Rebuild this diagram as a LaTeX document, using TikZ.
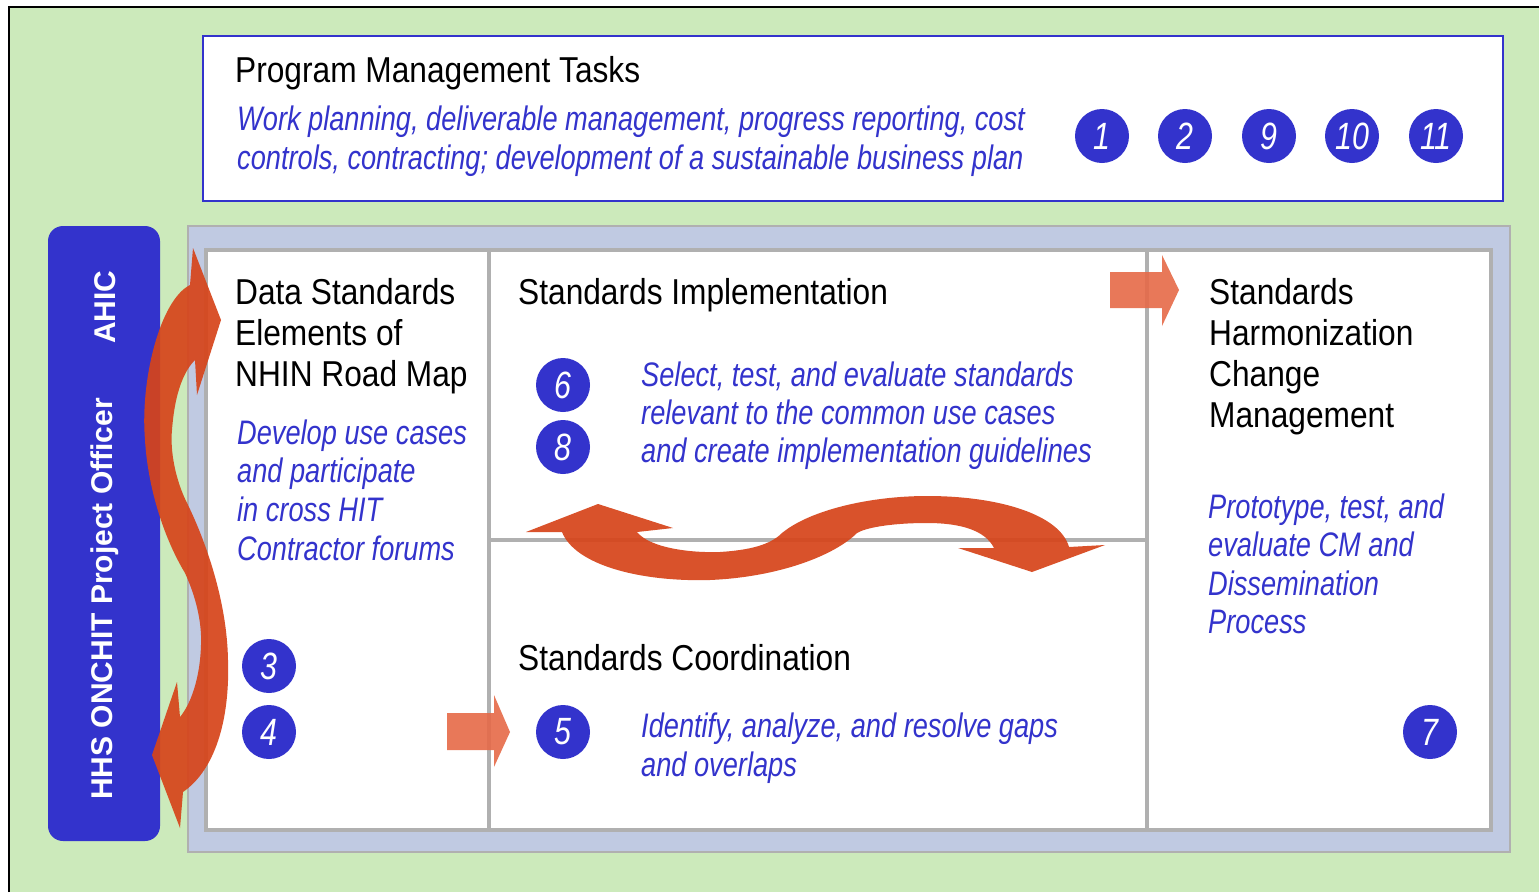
\documentclass[tikz,border=0pt]{standalone}
\usepackage{fontspec}
\setmainfont{Liberation Sans}
\newfontfamily\hdfont{Liberation Sans}[FakeStretch=0.88]
\newfontfamily\itfontfam{Liberation Sans}[FakeStretch=0.8]
\definecolor{bggreen}{RGB}{204,234,187}
\definecolor{blu}{RGB}{51,51,204}
\definecolor{panel}{RGB}{192,202,226}
\definecolor{grayline}{RGB}{176,176,176}
\definecolor{arrowred}{RGB}{214,68,26}
\definecolor{arrowlight}{RGB}{230,106,72}
\begin{document}
\begin{tikzpicture}[x=1pt,y=-1pt,
  hd/.style={anchor=base west,inner sep=0pt,font=\hdfont\fontsize{36}{41}\selectfont},
  it/.style={anchor=base west,inner sep=0pt,text=blu,font=\itfontfam\itshape\fontsize{34}{39}\selectfont},
  num/.style={circle,fill=blu,minimum size=54pt,inner sep=0pt,text=white,font=\itfontfam\itshape\fontsize{38}{38}\selectfont},
  vert/.style={rotate=90,inner sep=0pt,text=white,font=\bfseries\fontsize{30}{30}\selectfont},
  curvearrow/.style={fill=arrowred,fill opacity=0.92,draw=none},
  blockarrow/.style={fill=arrowlight,fill opacity=0.9,draw=none},
  divider/.style={draw=grayline,line width=4.5pt}]
\useasboundingbox (0,0) rectangle (1539,892);
% background
\fill[bggreen] (9,7) rectangle (1539,892);
\draw[black,line width=2pt] (9,892) -- (9,7) -- (1539,7);
% program management box
\draw[blu,fill=white,line width=2pt] (203,36) rectangle (1503,201);
% grey-blue panel
\draw[draw=grayline,fill=panel,line width=2pt] (188,226) rectangle (1510,852);
\draw[divider,fill=white] (206,250) rectangle (1491,830);
\draw[divider] (489,250) -- (489,830);
\draw[divider] (1147,250) -- (1147,830);
\draw[divider] (489,540) -- (1147,540);
% blue vertical bar
\fill[blu,rounded corners=15pt] (48,226) rectangle (160,841);
\node[vert] (hhs) at (105,599) {HHS ONCHIT Project Officer};
\node[vert] (ahic) at (105,307) {AHIC};
% vertical S-shaped double arrow
\path[curvearrow] (221,320) -- (193,248) -- (190,285)
  .. controls (160,300) and (140,380) .. (145,440)
  .. controls (148,490) and (165,540) .. (185,573)
  .. controls (195,595) and (202,620) .. (201,645)
  .. controls (200,680) and (190,705) .. (180,717)
  -- (177,682) -- (152,755) -- (180,828) -- (183,792)
  .. controls (215,770) and (230,720) .. (228,660)
  .. controls (227,600) and (205,540) .. (188,505)
  .. controls (175,480) and (170,450) .. (172,430)
  .. controls (175,390) and (185,370) .. (195,360)
  -- (197,395) -- cycle;
% horizontal S-shaped double arrow
\path[curvearrow] (526,532) -- (598,504) -- (673,528) -- (637,532)
  .. controls (650,548) and (690,553) .. (720,552)
  .. controls (750,550) and (770,545) .. (782,533)
  .. controls (810,510) and (870,496) .. (927,496)
  .. controls (1000,496) and (1060,515) .. (1069,547)
  -- (1105,545) -- (1032,572) -- (958,548) -- (994,548)
  .. controls (985,530) and (960,523) .. (927,523)
  .. controls (890,523) and (865,528) .. (857,533)
  .. controls (835,555) and (780,577) .. (710,580)
  .. controls (640,582) and (575,565) .. (562,532)
  -- cycle;
% block arrows
\path[blockarrow] (1110,272) -- (1162,272) -- (1162,255) -- (1179,290) -- (1162,326) -- (1162,308) -- (1110,308) -- cycle;
\path[blockarrow] (447,713) -- (494,713) -- (494,695) -- (510,732) -- (494,767) -- (494,750) -- (447,750) -- cycle;
% program management text
\node[hd] (pmt) at (235,82) {Program Management Tasks};
\node[it] (pmt1) at (237,130) {Work planning, deliverable management, progress reporting, cost};
\node[it] (pmt2) at (237,169) {controls, contracting; development of a sustainable business plan};
\node[num] (n1) at (1102,136) {1};
\node[num] (n2) at (1185,136) {2};
\node[num] (n9) at (1269,136) {9};
\node[num] (n10) at (1352,136) {10};
\node[num] (n11) at (1436,136) {11};
% data standards column
\node[hd] (ds1) at (235,304) {Data Standards};
\node[hd] (ds2) at (235,345) {Elements of};
\node[hd] (ds3) at (235,386) {NHIN Road Map};
\node[it] (du1) at (237,444) {Develop use cases};
\node[it] (du2) at (237,482) {and participate};
\node[it] (du3) at (237,521) {in cross HIT};
\node[it] (du4) at (237,560) {Contractor forums};
\node[num] (n3) at (269,666) {3};
\node[num] (n4) at (269,732) {4};
% standards implementation
\node[hd] (si) at (518,304) {Standards Implementation};
\node[it] (si1) at (641,386) {Select, test, and evaluate standards};
\node[it] (si2) at (641,424) {relevant to the common use cases};
\node[it] (si3) at (641,462) {and create implementation guidelines};
\node[num] (n6) at (563,385) {6};
\node[num] (n8) at (563,447) {8};
% standards coordination
\node[hd] (sc) at (518,670) {Standards Coordination};
\node[it] (sc1) at (641,737) {Identify, analyze, and resolve gaps};
\node[it] (sc2) at (641,776) {and overlaps};
\node[num] (n5) at (563,732) {5};
% harmonization
\node[hd] (sh1) at (1209,304) {Standards};
\node[hd] (sh2) at (1209,345) {Harmonization};
\node[hd] (sh3) at (1209,386) {Change};
\node[hd] (sh4) at (1209,427) {Management};
\node[it] (pt1) at (1208,518) {Prototype, test, and};
\node[it] (pt2) at (1208,556) {evaluate CM and};
\node[it] (pt3) at (1208,595) {Dissemination};
\node[it] (pt4) at (1208,633) {Process};
\node[num] (n7) at (1430,732) {7};
\end{tikzpicture}
\end{document}
